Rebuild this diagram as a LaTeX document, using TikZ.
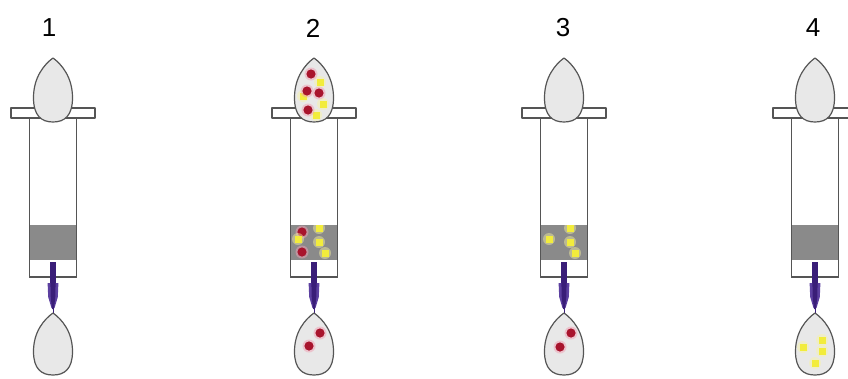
\documentclass[tikz,border=0pt]{standalone}
\usepackage{fontspec}
\setmainfont{Liberation Sans}
\usetikzlibrary{calc}
\definecolor{outline}{RGB}{85,85,85}
\definecolor{dropfill}{RGB}{232,232,232}
\definecolor{plugfill}{RGB}{138,138,138}
\definecolor{stemcol}{RGB}{58,30,120}
\definecolor{stemlight}{RGB}{92,64,160}
\definecolor{beadred}{RGB}{168,20,45}
\definecolor{beadhalo}{RGB}{240,160,180}
\definecolor{beadyellow}{RGB}{242,236,60}
\definecolor{yellowhalo}{RGB}{248,244,160}
\tikzset{
  wall/.style={draw=outline, line width=1.2pt, line join=round},
  drop/.style={wall, fill=dropfill},
  label/.style={font=\fontsize{26}{26}\selectfont, inner sep=0pt},
}
% teardrop with its tip at (0,#2) and its round end at (0,#3), half width #4
\newcommand{\teardrop}[4][]{%
  \pgfmathsetmacro{\tdA}{#2}\pgfmathsetmacro{\tdB}{#3}\pgfmathsetmacro{\tdW}{#4}%
  \pgfmathsetmacro{\tdL}{\tdB-\tdA}%
  \pgfmathsetmacro{\tdM}{\tdA+0.62*\tdL}%
  \draw[drop,#1] (0,\tdA)
    .. controls (0.45*\tdW,\tdA+0.1*\tdL) and (\tdW,\tdA+0.3*\tdL) .. (\tdW,\tdM)
    .. controls (\tdW,\tdB-0.1*\tdL) and (0.6*\tdW,\tdB) .. (0,\tdB)
    .. controls (-0.6*\tdW,\tdB) and (-\tdW,\tdB-0.1*\tdL) .. (-\tdW,\tdM)
    .. controls (-\tdW,\tdA+0.3*\tdL) and (-0.45*\tdW,\tdA+0.1*\tdL) .. (0,\tdA) -- cycle;}
% one syringe body centred on x = 0
\newcommand{\syringebody}{%
  \draw[wall, fill=white] (-23.5,117) rectangle (23.5,277);
  \fill[plugfill] (-22.9,225) rectangle (22.9,260);
  \draw[wall, fill=white] (-42,108) rectangle (42,118);
  \draw[wall] (-23.5,117) -- (-23.5,277) -- (23.5,277) -- (23.5,117);
  \teardrop{58}{122}{19.5}
  \fill[stemcol] (-2.6,262) rectangle (2.6,285);
  \fill[stemlight] (-5.4,283) -- (5.4,283) -- (4.8,297) -- (1.5,308) -- (-1.5,308) -- (-4.8,297) -- cycle;
  \fill[stemcol] (-2.6,283) -- (2.6,283) -- (2.2,299) -- (0.8,309) -- (-0.8,309) -- (-2.2,299) -- cycle;
  \draw[stemcol, line width=0.9pt] (0,308) -- (0,313);
  \teardrop{313}{375}{19.5}
}
\newcommand{\redbead}[1]{%
  \fill[beadhalo, opacity=0.5] (#1) circle (6.5);
  \fill[beadred] (#1) circle (4.6);}
\newcommand{\yellowbead}[1]{%
  \fill[yellowhalo, opacity=0.45] (#1) circle (6);
  \fill[beadyellow] ($(#1)+(-3.5,-3.5)$) rectangle ($(#1)+(3.5,3.5)$);}
\begin{document}
\begin{tikzpicture}[x=1pt, y=-1pt]
  \useasboundingbox (0,0) rectangle (848,378);
  \fill[white] (0,0) rectangle (848,378);

  % step labels
  \node[label] (l1) at (49,28) {1};
  \node[label] (l2) at (313,28) {2};
  \node[label] (l3) at (563,28) {3};
  \node[label] (l4) at (813,28) {4};

  % 1: empty column
  \begin{scope}[xshift=53pt]
    \syringebody
  \end{scope}

  % 2: mixture loaded, red beads pass through
  \begin{scope}[xshift=314pt]
    \syringebody
    \begin{scope}
      \clip (-22.9,225) rectangle (22.9,260);
      \redbead{-12,232}
      \redbead{-12,252}
      \yellowbead{5,228}
      \yellowbead{-16,239}
      \yellowbead{5,242}
      \yellowbead{11,253}
    \end{scope}
    \yellowbead{6,82}
    \yellowbead{-11,96}
    \yellowbead{9,104}
    \yellowbead{2,115}
    \redbead{-3,74}
    \redbead{-7,91}
    \redbead{5,93}
    \redbead{-6,110}
    \redbead{6,333}
    \redbead{-5,346}
  \end{scope}

  % 3: yellow beads retained
  \begin{scope}[xshift=564pt]
    \syringebody
    \begin{scope}
      \clip (-22.9,225) rectangle (22.9,260);
      \yellowbead{6,228}
      \yellowbead{-15,239}
      \yellowbead{6,242}
      \yellowbead{11,253}
    \end{scope}
    \redbead{7,333}
    \redbead{-4,347}
  \end{scope}

  % 4: yellow beads eluted
  \begin{scope}[xshift=815pt]
    \syringebody
    \yellowbead{7,340}
    \yellowbead{-12,347}
    \yellowbead{7,351}
    \yellowbead{0,363}
  \end{scope}
\end{tikzpicture}
\end{document}
